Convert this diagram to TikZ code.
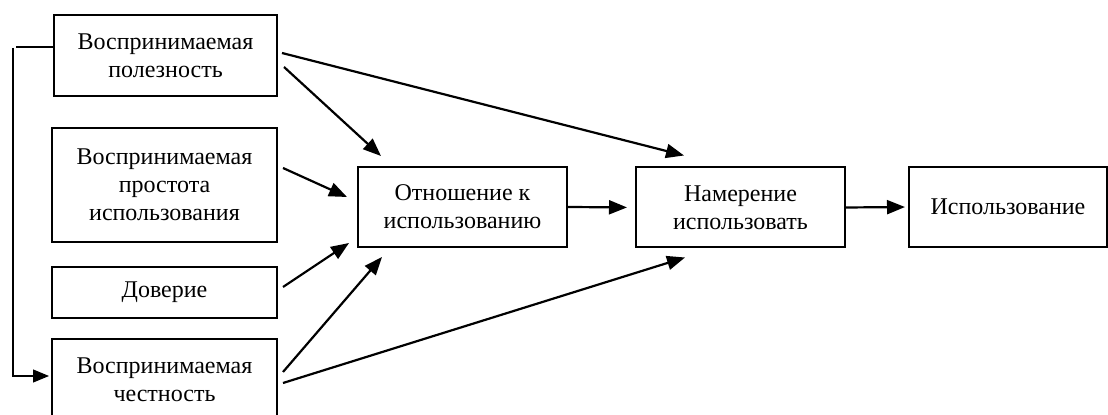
\documentclass[tikz,border=0pt]{standalone}
\usepackage{fontspec}
\setmainfont{Liberation Serif}
\usetikzlibrary{arrows.meta,calc}

\begin{document}
\begin{tikzpicture}[x=0.5pt,y=-0.5pt,
    box/.style={draw,line width=1pt,align=center,inner sep=0pt,
      font=\fontsize{12}{14}\selectfont},
    link/.style={line width=1.1pt,-{Triangle[length=9pt,width=7pt]}},
    feedback/.style={line width=0.6pt},]

    \useasboundingbox (0,0) rectangle (1108,415);

    \node[box,minimum width=111.5pt,minimum height=40.5pt] (useful) at (165.5,55.5)
      {Воспринимаемая\\полезность};

    \node[box,minimum width=112.5pt,minimum height=57pt] (ease) at (164.5,185)
      {Воспринимаемая\\простота\\использования};

    \node[box,minimum width=112.5pt,minimum height=25.5pt] (trust) at (164.5,292.5)
      {Доверие};

    \node[box,minimum width=112.5pt,minimum height=41pt] (fair) at (164.5,380)
      {Воспринимаемая\\честность};



    \node[box,minimum width=104.5pt,minimum height=40pt] (attitude) at (462.5,207)
      {Отношение к\\использованию};

    \node[box,minimum width=104.5pt,minimum height=40pt] (intent) at (740.5,207.5)
      {Намерение\\использовать};

    \node[box,minimum width=99pt,minimum height=40pt] (usage) at (1008,207)
      {Использование};



    \draw[link] ($(useful.east)+(6,11.5)$) -- ($(attitude.north west)+(24,-10)$);
    \draw[link] ($(useful.east)+(4,-2.5)$) -- ($(intent.north west)+(49,-11)$);
    \draw[link] ($(ease.east)+(5,-17)$) -- ($(attitude.west)+(-10,-10)$);
    \draw[link] ($(trust.east)+(5,-5.5)$) -- ($(attitude.south west)+(-8,-5)$);
    \draw[link] ($(fair.east)+(5,-8)$) -- ($(attitude.south west)+(25,9)$);
    \draw[link] ($(fair.east)+(5,3)$) -- ($(intent.south west)+(50,9)$);

    \draw[link,shorten >=4pt] (attitude.east) -- (intent.west);
    \draw[link,shorten >=1.5pt] (intent.east) -- (usage.west);



    \coordinate (loop) at (13,48);
    \draw[feedback] ($(useful.west)+(0,-8.5)$) -- (16,47);
    \draw[feedback,-{Triangle[length=8pt,width=6.5pt]}] (loop) |- ($(fair.west)+(-2,-4)$);

  \end{tikzpicture}
\end{document}
